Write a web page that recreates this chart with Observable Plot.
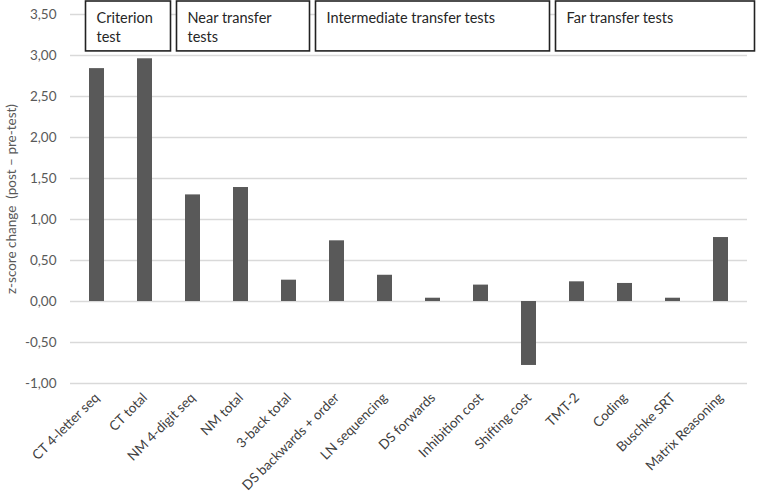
<!DOCTYPE html>
<html>
<head>
<meta charset="utf-8">
<script src="https://cdn.jsdelivr.net/npm/d3@7"></script>
<script src="https://cdn.jsdelivr.net/npm/@observablehq/plot@0.6"></script>
<style>
  html, body { margin: 0; padding: 0; background: #fff; }
  #chart svg { display: block; }
</style>
</head>
<body>
<div id="chart"></div>
<script>
const categories = ["CT 4-letter seq", "CT total", "NM 4-digit seq", "NM total", "3-back total",
  "DS backwards + order", "LN sequencing", "DS forwards", "Inhibition cost", "Shifting cost",
  "TMT-2", "Coding", "Buschke SRT", "Matrix Reasoning"];
const values = [2.84, 2.96, 1.30, 1.39, 0.26, 0.74, 0.32, 0.04, 0.20, -0.78, 0.24, 0.22, 0.04, 0.78];
const yTicks = [-1, -0.5, 0, 0.5, 1, 1.5, 2, 2.5, 3, 3.5];
const groupLabels = [["Criterion", "test"], ["Near transfer", "tests"], ["Intermediate transfer tests"], ["Far transfer tests"]];
const groupFirst = ["CT 4-letter seq", "NM 4-digit seq", "DS backwards + order", "TMT-2"];
const groupLast = ["CT total", "3-back total", "Shifting cost", "Matrix Reasoning"];
const groupInsetLeft = [13, 8, 3, 3];
const groupInsetRight = [-2, 3, 3, -10];

const data = categories.map((c, i) => ({category: c, value: values[i]}));
const groups = groupLabels.map((lines, i) => ({lines, first: groupFirst[i], last: groupLast[i], il: groupInsetLeft[i], ir: groupInsetRight[i]}));

const fmt = v => d3.format(".2f")(v).replace(".", ",").replace("\u2212", "-");

function groupBoxes(index, scales) {
  const x = scales.x;
  const step = x(categories[1]) - x(categories[0]);
  const bw = x.bandwidth ? x.bandwidth() : 0;
  const g = d3.create("svg:g").attr("text-anchor", "start");
  const bottom = scales.y(3.05);
  groups.forEach(gr => {
    const left = x(gr.first) + bw / 2 - step / 2 + gr.il;
    const right = x(gr.last) + bw / 2 + step / 2 - gr.ir;
    g.append("rect")
      .attr("x", left).attr("y", 1)
      .attr("width", right - left).attr("height", bottom - 1)
      .attr("fill", "#fff").attr("stroke", "#222").attr("stroke-width", 1.6);
    gr.lines.forEach((line, j) => {
      g.append("text")
        .attr("x", left + 11).attr("y", 23 + j * 19)
        .attr("text-anchor", "start")
        .attr("fill", "#262626")
        .attr("font-family", "Lato, 'Open Sans', sans-serif")
        .attr("font-size", 14.5)
        .text(line);
    });
  });
  return g.node();
}

const chart = Plot.plot({
  width: 762,
  height: 497,
  marginLeft: 70,
  marginRight: 15,
  marginTop: 14,
  marginBottom: 114,
  style: {fontFamily: "Lato, 'Open Sans', sans-serif", fontSize: "13.5px", color: "#404040", background: "#fff"},
  x: {domain: categories, paddingInner: 0.69, paddingOuter: 0.345, label: null},
  y: {domain: [-1, 3.5], label: null},
  marks: [
    Plot.gridY(yTicks, {stroke: "#d9d9d9", strokeOpacity: 1, strokeWidth: 1.5}),
    Plot.barY(data, {x: "category", y: "value", fill: "#595959"}),
    groupBoxes,
    Plot.axisY(yTicks, {tickSize: 0, tickPadding: 14, tickFormat: fmt, fill: "#595959", fontSize: 13.5,
      label: "z-score change  (post \u2013 pre-test)", labelAnchor: "center", labelArrow: "none", labelOffset: 64}),
    Plot.axisX({tickSize: 0, tickRotate: -45, tickPadding: 12, fill: "#404040", fontSize: 13.5, label: null})
  ]
});
document.getElementById("chart").appendChild(chart);
</script>
</body>
</html>
